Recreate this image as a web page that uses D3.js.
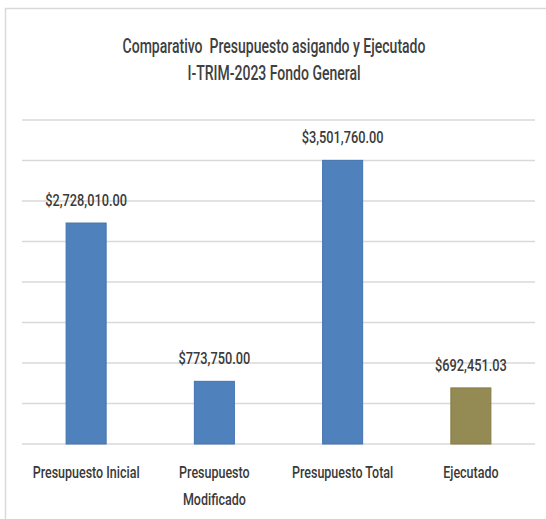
<!DOCTYPE html>
<html>
<head>
<meta charset="utf-8">
<script src="https://cdn.jsdelivr.net/npm/d3@7"></script>
<style>
  html, body { margin: 0; padding: 0; background: #fff; }
  svg { display: block; }
  text { white-space: pre; }
</style>
</head>
<body>
<div id="chart"></div>
<script>
// ---- data ----
const titleLines = ["Comparativo  Presupuesto asigando y Ejecutado", "I-TRIM-2023 Fondo General"];
const categories = ["Presupuesto Inicial", "Presupuesto Modificado", "Presupuesto Total", "Ejecutado"];
const categoryLabelLines = [["Presupuesto Inicial"], ["Presupuesto", "Modificado"], ["Presupuesto Total"], ["Ejecutado"]];
const values = [2728010.00, 773750.00, 3501760.00, 692451.03];
const yMax = 4000000;
const yTickStep = 500000;

// ---- layout ----
const W = 546, H = 519;
const plot = { left: 22, right: 535, top: 120, bottom: 444 };
const fontFamily = "Roboto, 'Open Sans', sans-serif";
const fontWeight = 500;
const textColor = "#3a3a3a";
const gridColor = "#d9d9d9";

const svg = d3.select("#chart").append("svg").attr("width", W).attr("height", H);

// frame
svg.append("rect")
  .attr("x", 5.5).attr("y", 8.5)
  .attr("width", W + 20).attr("height", H + 20)
  .attr("fill", "#fff").attr("stroke", gridColor).attr("stroke-width", 1.5);

const x = d3.scaleBand().domain(categories).range([plot.left, plot.right])
  .paddingInner(0.68).paddingOuter(0.34);
const y = d3.scaleLinear().domain([0, yMax]).range([plot.bottom, plot.top]);
const color = d3.scaleOrdinal().domain(categories)
  .range(["#4F81BD", "#4F81BD", "#4F81BD", "#948A54"]);
const stroke = d3.scaleOrdinal().domain(categories)
  .range(["#4474AD", "#4474AD", "#4474AD", "#857B48"]);

// gridlines
const ticks = d3.range(0, yMax + 1, yTickStep);
svg.append("g").selectAll("line").data(ticks).join("line")
  .attr("x1", plot.left).attr("x2", plot.right)
  .attr("y1", d => y(d)).attr("y2", d => y(d))
  .attr("stroke", gridColor).attr("stroke-width", 1.6);

// bars
svg.append("g").selectAll("rect").data(categories).join("rect")
  .attr("x", d => x(d) + 0.5)
  .attr("width", x.bandwidth() - 1)
  .attr("y", (d, i) => y(values[i]))
  .attr("height", (d, i) => y(0) - y(values[i]))
  .attr("fill", d => color(d))
  .attr("stroke", d => stroke(d)).attr("stroke-width", 1);

// helper: compress text horizontally to mimic a narrow font
function fitFactor(str, size, target) {
  const t = svg.append("text").attr("font-family", fontFamily).attr("font-size", size)
    .attr("font-weight", fontWeight).text(str);
  const w = t.node().getComputedTextLength();
  t.remove();
  return target / w;
}
function place(sel, cx, cy, k) {
  sel.attr("transform", `translate(${cx},${cy}) scale(${k},1)`);
}

// title
const titleSize = 21;
const kTitle = fitFactor(titleLines[0], titleSize, 303);
titleLines.forEach((line, i) => {
  svg.append("text")
    .attr("font-family", fontFamily).attr("font-size", titleSize)
    .attr("font-weight", fontWeight)
    .attr("fill", "#404040").attr("text-anchor", "middle")
    .text(line)
    .call(place, 274, 53 + i * 27, kTitle);
});

// data labels
const fmt = d3.format("$,.2f");
const labelSize = 16;
const kLabel = fitFactor(fmt(values[0]), labelSize, 82);
svg.append("g").selectAll("text").data(categories).join("text")
  .attr("font-family", fontFamily).attr("font-size", labelSize)
  .attr("font-weight", fontWeight)
  .attr("fill", textColor).attr("text-anchor", "middle")
  .text((d, i) => fmt(values[i]))
  .each(function (d, i) {
    d3.select(this).call(place, x(d) + x.bandwidth() / 2, y(values[i]) - 17, kLabel);
  });

// category labels
const catSize = 16;
const kCat = fitFactor(categoryLabelLines[0][0], catSize, 107);
categories.forEach((c, i) => {
  categoryLabelLines[i].forEach((line, j) => {
    svg.append("text")
      .attr("font-family", fontFamily).attr("font-size", catSize)
      .attr("font-weight", fontWeight)
      .attr("fill", textColor).attr("text-anchor", "middle")
      .text(line)
      .call(place, x(c) + x.bandwidth() / 2, 478 + j * 27, kCat);
  });
});
</script>
</body>
</html>
